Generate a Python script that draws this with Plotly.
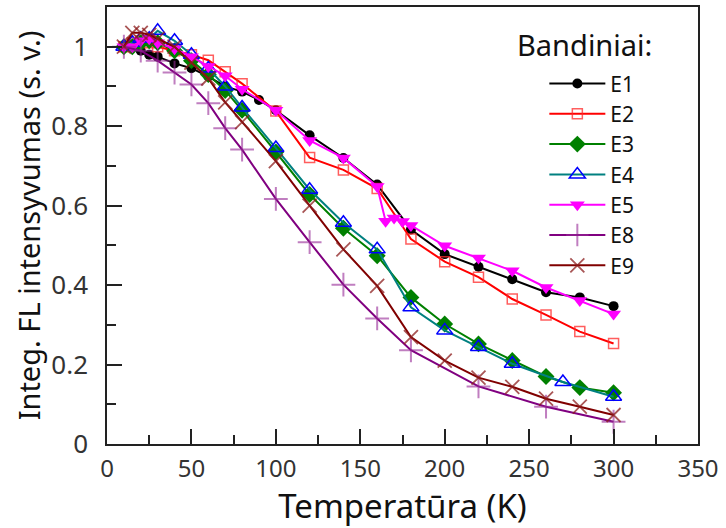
import plotly.graph_objects as go

# ---- data ----
T_E1 = [10, 15, 20, 25, 30, 40, 50, 60, 70, 80, 90, 100, 120, 140, 160, 180, 200, 220, 240, 260, 280, 300]
V_E1 = [1.0, 1.0, 0.99, 0.98, 0.975, 0.958, 0.946, 0.925, 0.9, 0.887, 0.866, 0.84, 0.777, 0.72, 0.653, 0.54, 0.478, 0.446, 0.415, 0.382, 0.369, 0.347]

T_E2 = [10, 15, 20, 25, 30, 40, 50, 60, 70, 80, 100, 120, 140, 160, 180, 200, 220, 240, 260, 280, 300]
V_E2 = [1.0, 1.01, 1.015, 1.01, 1.0, 0.99, 0.98, 0.966, 0.937, 0.907, 0.838, 0.721, 0.69, 0.643, 0.516, 0.459, 0.42, 0.365, 0.325, 0.283, 0.253]

T_E3 = [10, 15, 20, 25, 30, 40, 50, 60, 70, 80, 100, 120, 140, 160, 180, 200, 220, 240, 260, 280, 300]
V_E3 = [1.0, 1.0, 1.01, 1.015, 1.01, 0.99, 0.965, 0.93, 0.89, 0.84, 0.735, 0.628, 0.543, 0.474, 0.369, 0.302, 0.252, 0.21, 0.17, 0.142, 0.129]

T_E4 = [10, 15, 20, 25, 30, 40, 50, 60, 70, 80, 100, 120, 140, 160, 180, 200, 220, 240, 270, 300]
V_E4 = [1.0, 1.01, 1.02, 1.02, 1.04, 1.015, 0.98, 0.945, 0.9, 0.847, 0.745, 0.64, 0.557, 0.49, 0.344, 0.286, 0.244, 0.202, 0.156, 0.119]

T_E5 = [10, 15, 20, 25, 30, 40, 50, 60, 70, 80, 100, 120, 140, 160, 165, 170, 175, 180, 200, 220, 240, 260, 280, 300]
V_E5 = [1.0, 1.0, 1.015, 1.02, 1.01, 0.995, 0.975, 0.95, 0.927, 0.893, 0.84, 0.764, 0.72, 0.648, 0.561, 0.569, 0.56, 0.55, 0.499, 0.468, 0.436, 0.394, 0.361, 0.327]

T_E8 = [10, 20, 30, 40, 50, 60, 70, 80, 100, 120, 140, 160, 180, 220, 260, 300]
V_E8 = [1.0, 0.99, 0.965, 0.935, 0.905, 0.858, 0.795, 0.741, 0.617, 0.508, 0.401, 0.316, 0.236, 0.145, 0.094, 0.056]

T_E9 = [10, 15, 20, 25, 30, 40, 50, 60, 70, 80, 100, 120, 140, 160, 180, 200, 220, 240, 260, 280, 300]
V_E9 = [1.0, 1.035, 1.035, 1.03, 1.02, 1.0, 0.96, 0.92, 0.86, 0.81, 0.712, 0.6, 0.49, 0.398, 0.269, 0.21, 0.167, 0.144, 0.114, 0.094, 0.073]

NAMES = ["E1", "E2", "E3", "E4", "E5", "E8", "E9"]
TS = [T_E1, T_E2, T_E3, T_E4, T_E5, T_E8, T_E9]
VS = [V_E1, V_E2, V_E3, V_E4, V_E5, V_E8, V_E9]

X_TITLE = "Temperatūra (K)"
Y_TITLE = "Integ. FL intensyvumas (s. v.)"
LEGEND_TITLE = "Bandiniai:"

# ---- styles ----
STYLES = {
    "E1": dict(line="#000000", sym="circle", mcol="#000000", size=10, lw=0),
    "E2": dict(line="#FF0000", sym="square-open", mcol="rgba(255,40,40,0.75)", size=10, lw=1.5),
    "E3": dict(line="#008000", sym="diamond", mcol="#008000", size=13, lw=0),
    "E4": dict(line="#008080", sym="triangle-up-open", mcol="#0000FF", size=14, lw=1.5),
    "E5": dict(line="#FF00FF", sym="triangle-down", mcol="#FF00FF", size=13, lw=0),
    "E8": dict(line="#800080", sym="cross-thin-open", mcol="rgba(150,40,150,0.6)", size=17, lw=2),
    "E9": dict(line="#800000", sym="x-thin-open", mcol="rgba(140,30,30,0.75)", size=14, lw=1.8),
}

FONT = "Noto Sans"

fig = go.Figure()
for name, t, v in zip(NAMES, TS, VS):
    s = STYLES[name]
    marker = dict(symbol=s["sym"], size=s["size"], color=s["mcol"])
    if s["lw"]:
        marker["line"] = dict(color=s["mcol"], width=s["lw"])
    fig.add_trace(go.Scatter(
        x=t, y=v, name=name, mode="lines+markers",
        line=dict(color=s["line"], width=2),
        marker=marker,
    ))

axis_col = "#222222"
fig.update_layout(
    width=726, height=528,
    margin=dict(l=107, r=28, t=5, b=84),
    paper_bgcolor="white", plot_bgcolor="white",
    font=dict(family=FONT, size=22, color="#222222"),
    showlegend=True,
    legend=dict(
        x=0.740, y=0.871, xanchor="left", yanchor="top",
        bgcolor="rgba(0,0,0,0)", font=dict(size=21, color="#111111"),
        itemwidth=56, tracegroupgap=0,
    ),
    xaxis=dict(
        range=[0, 350], dtick=50, tick0=0,
        ticks="inside", ticklen=15, tickwidth=1.5, tickcolor=axis_col,
        minor=dict(dtick=25, ticks="inside", ticklen=9, tickwidth=1.5, tickcolor=axis_col),
        showline=True, linecolor=axis_col, linewidth=1.5, mirror=True,
        showgrid=False, zeroline=False,
        tickfont=dict(size=24, color="#333333"),
        ticklabelstandoff=2,
        title=dict(text=X_TITLE, font=dict(size=33, color="#111111"), standoff=9),
    ),
    xaxis2=dict(
        range=[0, 350], overlaying="x", side="top", anchor="y",
        dtick=100, tick0=0, ticks="inside", ticklen=15, tickwidth=1.5, tickcolor=axis_col,
        minor=dict(dtick=20, ticks="inside", ticklen=9, tickwidth=1.5, tickcolor=axis_col),
        showticklabels=False, showgrid=False, zeroline=False, showline=False,
    ),
    yaxis=dict(
        range=[0, 1.1], dtick=0.2, tick0=0,
        ticks="inside", ticklen=15, tickwidth=1.5, tickcolor=axis_col,
        minor=dict(dtick=0.1, ticks="inside", ticklen=9, tickwidth=1.5, tickcolor=axis_col),
        showline=True, linecolor=axis_col, linewidth=1.5, mirror=True,
        showgrid=False, zeroline=False,
        tickfont=dict(size=26, color="#333333"),
        ticklabelstandoff=12,
        title=dict(text=Y_TITLE, font=dict(size=29, color="#111111"), standoff=2),
    ),
    annotations=[dict(
        text=LEGEND_TITLE, xref="paper", yref="paper", x=0.690, y=0.964,
        xanchor="left", yanchor="top", showarrow=False,
        font=dict(size=29, color="#111111"),
    )],
)

fig.write_html("out.html")
